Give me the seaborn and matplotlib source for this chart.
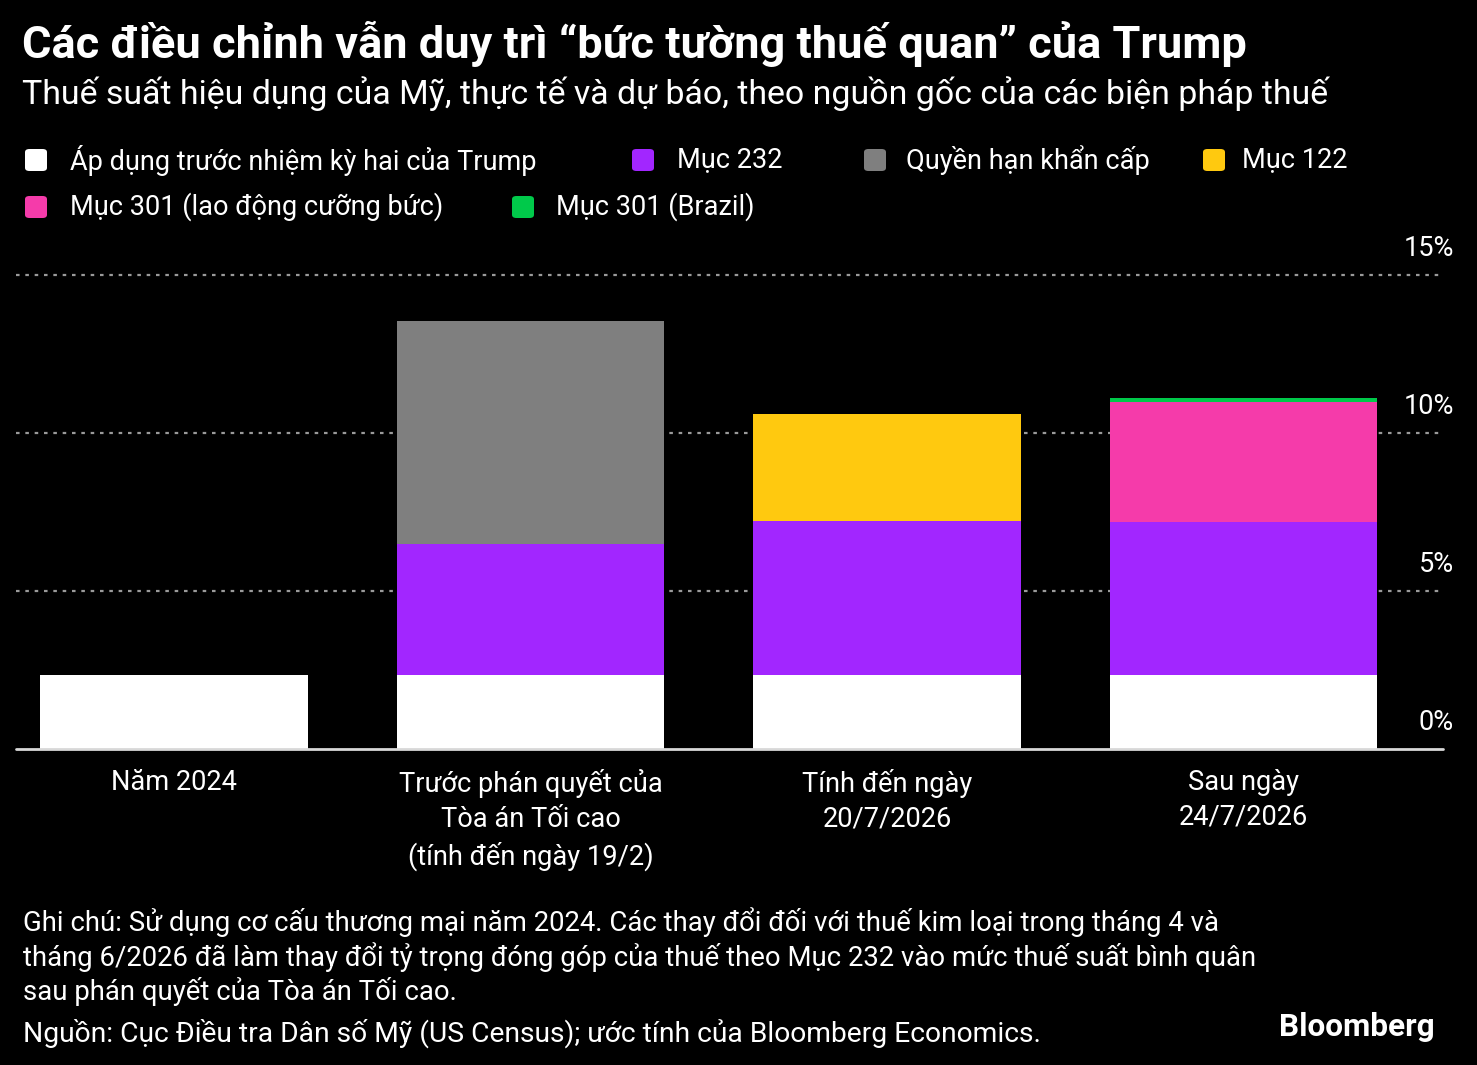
import matplotlib
matplotlib.use("Agg")
import matplotlib.pyplot as plt
import matplotlib.transforms as mtransforms
from matplotlib.patches import FancyBboxPatch
import numpy as np
import pandas as pd
import seaborn as sns

# values (percentage points of effective tariff rate)
periods = ["Năm 2024",
           "Trước phán quyết của\nTòa án Tối cao\n(tính đến ngày 19/2)",
           "Tính đến ngày\n20/7/2026",
           "Sau ngày\n24/7/2026"]
pre_trump = [2.32, 2.32, 2.32, 2.32]
sec_232 = [0.0, 4.15, 4.88, 4.86]
emergency = [0.0, 7.06, 0.0, 0.0]
sec_122 = [0.0, 0.0, 3.39, 0.0]
sec_301_forced = [0.0, 0.0, 0.0, 3.80]
sec_301_brazil = [0.0, 0.0, 0.0, 0.12]

layers = ["Áp dụng trước nhiệm kỳ hai của Trump", "Mục 232", "Quyền hạn khẩn cấp",
          "Mục 122", "Mục 301 (lao động cưỡng bức)", "Mục 301 (Brazil)"]
layer_values = [pre_trump, sec_232, emergency, sec_122, sec_301_forced, sec_301_brazil]
colors = ["#FFFFFF", "#A226FF", "#7F7F7F", "#FFC90F", "#F53BAA", "#00C94A"]
y_ticks = [0, 5, 10, 15]

BG = "#000000"
FG = "#FFFFFF"

sns.set_theme(style="dark")
plt.rcParams["font.family"] = ["Roboto", "DejaVu Sans"]

W, H = 1477, 1065
fig = plt.figure(figsize=(W / 100, H / 100), dpi=100, facecolor=BG)


def px(x, y):
    return x / W, 1 - y / H


# axes: baseline at y=748.6px, 1% = 31.6px
unit = 31.6
y_top = 15.5
bottom_px = 748.6
top_px = bottom_px - y_top * unit
ax = fig.add_axes([16 / W, 1 - bottom_px / H, (1443 - 16) / W, (bottom_px - top_px) / H])
ax.set_facecolor(BG)

df = pd.DataFrame(dict(zip(layers, layer_values)), index=periods)
cum = df.cumsum(axis=1)

for v in y_ticks[1:]:
    ax.axhline(v, color="#9a9a9a", lw=1.6, ls=(0, (1.6, 2.6)), zorder=0, clip_on=False)

# stacked bars: draw cumulative tops from the top layer down
for layer, color in reversed(list(zip(layers, colors))):
    d = pd.DataFrame({"period": periods, "value": cum[layer].values})
    sns.barplot(data=d, x="period", y="value", order=periods, color=color,
                width=0.75, saturation=1, ax=ax, zorder=2, linewidth=0)

ax.axhline(0, color="#d8d8d8", lw=2, zorder=3, clip_on=False)
ax.set_xlim(-0.443, 3.56)
ax.set_ylim(0, y_top)
ax.set_xlabel("")
ax.set_ylabel("")
ax.set_yticks([])
ax.set_xticks(range(len(periods)))
ax.set_xticklabels(periods, color=FG, fontsize=19.6, linespacing=1.36, va="top")
ax.tick_params(axis="x", length=0, pad=15)
ax.grid(False)
for s in ax.spines.values():
    s.set_visible(False)

# right-side percentage labels sitting above the gridlines
trans = mtransforms.blended_transform_factory(ax.transAxes, ax.transData)
trans = mtransforms.offset_copy(trans, fig=fig, x=11, y=26, units="dots")
for v in y_ticks:
    ax.text(1.0, v, f"{v}%", transform=trans, ha="right", va="center",
            color=FG, fontsize=19.5)

# title and subtitle
fig.text(*px(22, 58), "Các điều chỉnh vẫn duy trì “bức tường thuế quan” của Trump",
         color=FG, fontsize=32.5, fontweight="bold", va="baseline")
fig.text(*px(22, 104), "Thuế suất hiệu dụng của Mỹ, thực tế và dự báo, theo nguồn gốc của các biện pháp thuế",
         color=FG, fontsize=24.4, va="baseline")

# legend, laid out like the reference
legend_sq = [(25, 160), (632, 160), (864, 160), (1203, 160), (25, 207), (512, 207)]
legend_tx = [70, 677, 906, 1242, 70, 556]
for (lx, ly), tx, name, color in zip(legend_sq, legend_tx, layers, colors):
    sq = 22
    patch = FancyBboxPatch(px(lx, ly + sq / 2), sq / W, sq / H,
                           boxstyle="round,pad=0,rounding_size=0.003",
                           transform=fig.transFigure, facecolor=color, edgecolor="none")
    fig.patches.append(patch)
    fig.text(*px(tx, ly), name, color=FG, fontsize=19.5, va="center")

# notes and source
note = ("Ghi chú: Sử dụng cơ cấu thương mại năm 2024. Các thay đổi đối với thuế kim loại trong tháng 4 và\n"
        "tháng 6/2026 đã làm thay đổi tỷ trọng đóng góp của thuế theo Mục 232 vào mức thuế suất bình quân\n"
        "sau phán quyết của Tòa án Tối cao.")
fig.text(*px(23, 907), note, color=FG, fontsize=19.8, va="top", linespacing=1.21)
fig.text(*px(23, 1033), "Nguồn: Cục Điều tra Dân số Mỹ (US Census); ước tính của Bloomberg Economics.",
         color=FG, fontsize=20.3, va="center")
fig.text(*px(1435, 1027), "Bloomberg", color=FG, fontsize=22.7, fontweight="bold",
         ha="right", va="center")

fig.savefig("out.png", dpi=100, facecolor=BG)
